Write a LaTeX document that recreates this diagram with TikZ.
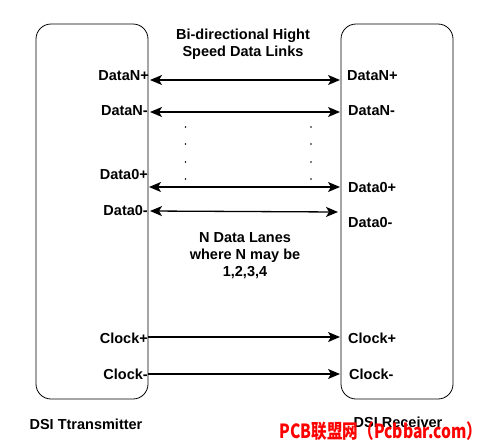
\documentclass[tikz,border=0pt]{standalone}
\usepackage{fontspec}
\setmainfont{Liberation Sans}
\newfontfamily\cjk{Noto Sans CJK SC}
\usepackage{tikz}
\usetikzlibrary{calc,arrows.meta}

\tikzset{
  lbl/.style={font=\bfseries\fontsize{14.5}{17}\selectfont,inner sep=0pt},
  blk/.style={draw,thick,rounded corners=15pt,minimum width=112pt,minimum height=375pt,inner sep=0pt},
  lnk/.style={line width=1.3pt,>={Stealth[length=12pt,width=10pt,inset=3pt]}}
}

\begin{document}
\begin{tikzpicture}[x=1pt,y=-1pt]
       \useasboundingbox(0,0)rectangle(484,445);%全体の枠
       \node[blk](tx)at(92,211.5){};%送信側
       \node[blk](rx)at(397,211.5){};%受信側

       \node[lbl,align=center](top)at(243,44){Bi-directional Hight\\Speed Data Links};%上の説明
       \node[lbl,align=center](mid)at(245,256){N Data Lanes\\where N may be\\1,2,3,4};%中の説明
       \node[lbl](txname)at(86,424){DSI Ttransmitter};%送信側の名前
       \node[lbl](rxname)at(398,422){DSI Receiver};%受信側の名前

       \node[lbl,anchor=east](tdnp)at(149,76){DataN+};%左 DataN+
       \node[lbl,anchor=east](tdnm)at(148,111){DataN-};%左 DataN-
       \node[lbl,anchor=east](td0p)at(148,175){Data0+};%左 Data0+
       \node[lbl,anchor=east](td0m)at(148,211){Data0-};%左 Data0-
       \node[lbl,anchor=east](tckp)at(148,338){Clock+};%左 Clock+
       \node[lbl,anchor=east](tckm)at(148,374){Clock-};%左 Clock-

       \node[lbl,anchor=west](rdnp)at(347,76){DataN+};%右 DataN+
       \node[lbl,anchor=west](rdnm)at(348,111){DataN-};%右 DataN-
       \node[lbl,anchor=west](rd0p)at(348,188){Data0+};%右 Data0+
       \node[lbl,anchor=west](rd0m)at(348,223){Data0-};%右 Data0-
       \node[lbl,anchor=west](rckp)at(348,338){Clock+};%右 Clock+
       \node[lbl,anchor=west](rckm)at(349,374){Clock-};%右 Clock-

       \coordinate(a1)at(150,80);\coordinate(b1)at(340,80);%DataN+ の端
       \coordinate(a2)at(150,112);\coordinate(b2)at(340,112);%DataN- の端
       \coordinate(a3)at(149,187);\coordinate(b3)at(340,187);%Data0+ の端
       \coordinate(a4)at(150,211);\coordinate(b4)at(338,212);%Data0- の端
       \coordinate(a5)at(148,337);\coordinate(b5)at(340,337);%Clock+ の端
       \coordinate(a6)at(148,374);\coordinate(b6)at(340,374);%Clock- の端

       \foreach \p in{1,...,4}
           \draw[lnk,<->](a\p)--(b\p);%データ線
       \foreach \p in{5,6}
           \draw[lnk,->](a\p)--(b\p);%クロック線

       \foreach \y in{127,144,162,179}
           \fill(185.5,\y)circle(0.9)(311,\y)circle(0.9);%点々

       \node[red,font=\cjk\bfseries\fontsize{19.5}{20}\selectfont,xscale=0.8,inner sep=0pt](wm)at(381,431){PCB联盟网（Pcbbar.com）};%透かし
\end{tikzpicture}
\end{document}
